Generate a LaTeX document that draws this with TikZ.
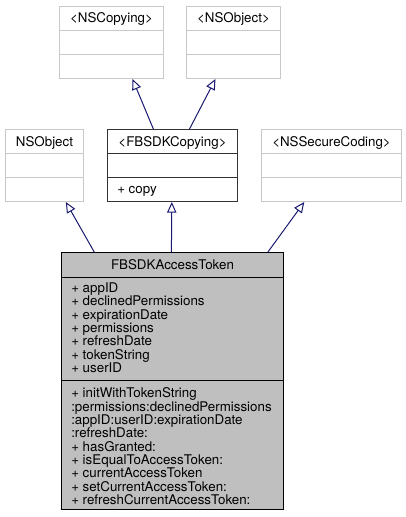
\documentclass[tikz,border=0pt]{standalone}
\usepackage{fontspec}
\setmainfont{TeX Gyre Heros}
\usepackage{xcolor}
\usepackage{tikz}
\usetikzlibrary{arrows.meta, positioning, calc}

\definecolor{edgeblue}{HTML}{191970}
\definecolor{tokenfill}{HTML}{BFBFBF}
\definecolor{lightframe}{HTML}{C8C8C8}

\tikzset{
  classbox/.style 2 args={draw, fill=white, line width=0.75pt, inner sep=0pt,
    anchor=north west, minimum width={#1*0.75pt}, minimum height={#2*0.75pt}},
  ghost/.style={draw=lightframe},
  classname/.style={anchor=base, inner sep=0pt},
  members/.style={anchor=north west, align=left, inner sep=0pt},
  inherit/.style={edgeblue, line width=0.75pt, -{Triangle[open, length=8pt, width=7pt]}},
}

\begin{document}
\begin{tikzpicture}[x=0.75pt, y=-0.75pt, font=\fontsize{10}{10}\selectfont]
  \useasboundingbox (0,0) rectangle (405,517);
  % 上层协议
  \node[classbox={104}{72}, ghost] (nscopying) at (59,6) {};
  \node[classbox={94}{72}, ghost] (nsobjectproto) at (186,6) {};
  % 中层父类与协议
  \node[classbox={78}{72}, ghost] (nsobject) at (5,129) {};
  \node[classbox={130}{72}, draw=black!80] (fbsdkcopying) at (107,129) {};
  \node[classbox={140}{72}, ghost] (nssecurecoding) at (261,129) {};
  % 分隔线
  \foreach \b in {nscopying, nsobjectproto, nsobject, nssecurecoding}
    \foreach \d in {24.5, 48.5}
      \draw[lightframe, line width=0.75pt] ($(\b.north west)+(0,\d)$) -- ($(\b.north east)+(0,\d)$);
  \foreach \d in {24.5, 48.5}
    \draw[black!80, line width=0.75pt] ($(fbsdkcopying.north west)+(0,\d)$) -- ($(fbsdkcopying.north east)+(0,\d)$);
  % 类名
  \node[classname] (nscopyingname) at ($(nscopying.north)+(0,17)$) {<NSCopying>};
  \node[classname] (nsobjectprotoname) at ($(nsobjectproto.north)+(0,17)$) {<NSObject>};
  \node[classname] (nsobjectname) at ($(nsobject.north)+(0,17)$) {NSObject};
  \node[classname] (fbsdkcopyingname) at ($(fbsdkcopying.north)+(0,17)$) {<FBSDKCopying>};
  \node[classname] (nssecurecodingname) at ($(nssecurecoding.north)+(0,17)$) {<NSSecureCoding>};
  \node[anchor=base west, inner sep=0pt] (copyop) at ($(fbsdkcopying.north west)+(10,64.5)$) {+ copy};
  % 主类
  \node[classbox={222}{257}, fill=tokenfill, draw=black] (token) at (61,252) {};
  \draw[black, line width=0.75pt] ($(token.north west)+(0,25)$) -- ($(token.north east)+(0,25)$);
  \draw[black, line width=0.75pt] ($(token.north west)+(0,128)$) -- ($(token.north east)+(0,128)$);
  \node[classname] (tokenname) at ($(token.north)+(0,17)$) {FBSDKAccessToken};
  % 属性
  \node[members] (tokenattrs) at ($(token.north west)+(10,30.5)$)
    {+ appID\\+ declinedPermissions\\+ expirationDate\\+ permissions\\+ refreshDate\\+ tokenString\\+ userID};
  % 方法
  \node[members] (tokenops) at ($(token.north west)+(10,135.5)$)
    {+ initWithTokenString\\:permissions:declinedPermissions\\:appID:userID:expirationDate\\:refreshDate:\\+ hasGranted:\\+ isEqualToAccessToken:\\+ currentAccessToken\\+ setCurrentAccessToken:\\+ refreshCurrentAccessToken:};
  % 继承箭头
  \draw[inherit] ($(token.north west)!0.149!(token.north east)$) -- ($(nsobject.south west)!0.77!(nsobject.south east)$);
  \draw[inherit] ($(token.north west)!0.495!(token.north east)$) -- ($(fbsdkcopying.south west)!0.495!(fbsdkcopying.south east)$);
  \draw[inherit] ($(token.north west)!0.928!(token.north east)$) -- ($(nssecurecoding.south west)!0.307!(nssecurecoding.south east)$);
  \draw[inherit] ($(fbsdkcopying.north west)!0.354!(fbsdkcopying.north east)$) -- ($(nscopying.south west)!0.70!(nscopying.south east)$);
  \draw[inherit] ($(fbsdkcopying.north west)!0.63!(fbsdkcopying.north east)$) -- ($(nsobjectproto.south west)!0.31!(nsobjectproto.south east)$);
\end{tikzpicture}
\end{document}
